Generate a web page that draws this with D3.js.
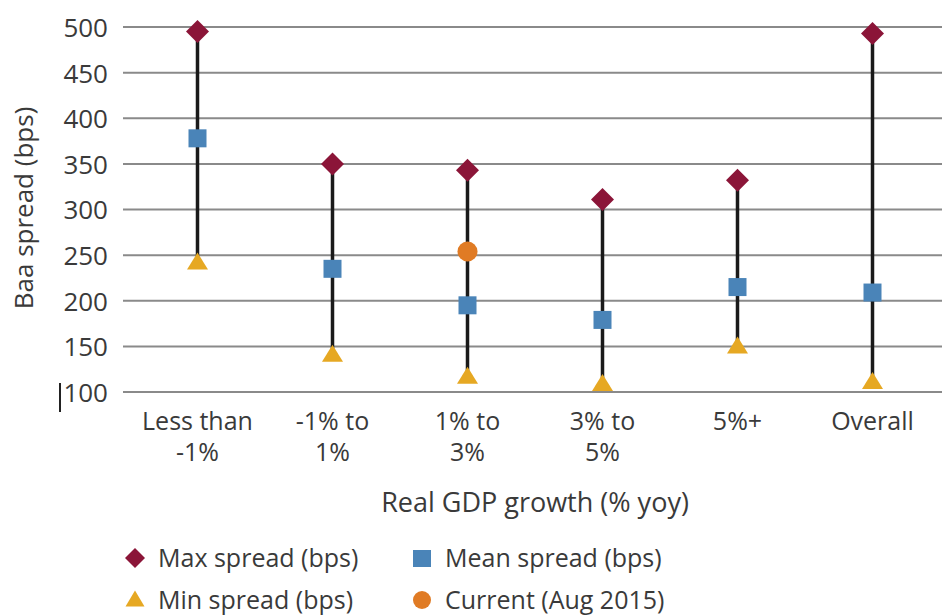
<!DOCTYPE html>
<html>
<head>
<meta charset="utf-8">
<script src="https://cdn.jsdelivr.net/npm/d3@7"></script>
<style>
  body { margin: 0; background: #fff; }
  svg { display: block; }
  .grid line { stroke: #8a8a8a; stroke-width: 2; }
  .lbl { fill: #3a3a3a; font-size: 25px; font-family: "Open Sans", sans-serif; }
</style>
</head>
<body>
<svg width="942" height="616"></svg>
<script>
const categories = [["Less than", "-1%"], ["-1% to", "1%"], ["1% to", "3%"], ["3% to", "5%"], ["5%+"], ["Overall"]];
const maxSpread = [495, 350, 343, 311, 332, 493];
const meanSpread = [378, 235, 195, 179, 215, 209];
const minSpread = [246, 145, 121, 113, 154, 115];
const current = [null, null, 254, null, null, null];
const yTicks = [100, 150, 200, 250, 300, 350, 400, 450, 500];

const svg = d3.select("svg");
const keys = categories.map(c => c.join(" "));

const xScale = d3.scaleBand().domain(keys).range([130, 940]);
const yScale = d3.scaleLinear().domain([100, 500]).range([392, 27]);
const cx = i => xScale(keys[i]) + xScale.bandwidth() / 2;

// grid lines
const grid = svg.append("g").attr("class", "grid");
grid.selectAll("line")
    .data(yTicks)
    .enter().append("line")
    .attr("x1", 123)
    .attr("x2", 942)
    .attr("y1", d => yScale(d))
    .attr("y2", d => yScale(d));

// y axis tick labels
const yAxis = d3.axisLeft(yScale).tickValues(yTicks).tickSize(0).tickPadding(0);
const gY = svg.append("g").attr("transform", "translate(108,0)").call(yAxis);
gY.attr("font-family", null).attr("font-size", null);
gY.select(".domain").remove();
gY.selectAll("text").attr("class", "lbl").attr("fill", null).style("font-size", "26px").attr("dy", "0.36em");

// little stub next to 100
svg.append("line")
    .attr("x1", 60).attr("x2", 60)
    .attr("y1", yScale(100) - 9).attr("y2", yScale(100) + 20)
    .attr("stroke", "#222").attr("stroke-width", 2);

// y title
svg.append("text")
    .attr("class", "lbl")
    .attr("text-anchor", "middle")
    .style("font-size", "26px")
    .attr("transform", "translate(33,208) rotate(-90)")
    .text("Baa spread (bps)");

// x labels
const xl = svg.append("g");
categories.forEach((c, i) => {
    const t = xl.append("text").attr("class", "lbl").attr("text-anchor", "middle");
    c.forEach((line, j) => {
        t.append("tspan").attr("x", cx(i)).attr("y", 430 + j * 31).text(line);
    });
});

svg.append("text")
    .attr("class", "lbl")
    .attr("text-anchor", "middle")
    .style("font-size", "27px")
    .attr("x", 535).attr("y", 512)
    .text("Real GDP growth (% yoy)");

// stems
svg.append("g").selectAll("line")
    .data(keys)
    .enter().append("line")
    .attr("x1", (d, i) => cx(i)).attr("x2", (d, i) => cx(i))
    .attr("y1", (d, i) => yScale(minSpread[i]))
    .attr("y2", (d, i) => yScale(maxSpread[i]))
    .attr("stroke", "#1a1a1a")
    .attr("stroke-width", 3.5);

const colors = { max: "#8b1538", mean: "#4a84b8", min: "#e6a823", cur: "#e07b24" };
const diamond = s => `M0,${-s}L${s},0L0,${s}L${-s},0Z`;
const tri = (w, h) => `M0,${-h * 0.6}L${w / 2},${h * 0.4}L${-w / 2},${h * 0.4}Z`;

// min triangles
svg.append("g").selectAll("path")
    .data(minSpread)
    .enter().append("path")
    .attr("d", tri(21, 17))
    .attr("transform", (d, i) => `translate(${cx(i)},${yScale(d) + 4})`)
    .attr("fill", colors.min);

// max diamonds
svg.append("g").selectAll("path")
    .data(maxSpread)
    .enter().append("path")
    .attr("d", diamond(11.5))
    .attr("transform", (d, i) => `translate(${cx(i)},${yScale(d)})`)
    .attr("fill", colors.max);

// mean squares
svg.append("g").selectAll("rect")
    .data(meanSpread)
    .enter().append("rect")
    .attr("x", (d, i) => cx(i) - 9)
    .attr("y", d => yScale(d) - 9)
    .attr("width", 18).attr("height", 18)
    .attr("fill", colors.mean);

// current circle
svg.append("g").selectAll("circle")
    .data(current.map((v, i) => ({ v, i })).filter(d => d.v != null))
    .enter().append("circle")
    .attr("cx", d => cx(d.i))
    .attr("cy", d => yScale(d.v))
    .attr("r", 10)
    .attr("fill", colors.cur);

// legend
const legendItems = [
    { label: "Max spread (bps)", shape: "diamond", color: colors.max, x: 135, y: 558 },
    { label: "Mean spread (bps)", shape: "square", color: colors.mean, x: 422, y: 558 },
    { label: "Min spread (bps)", shape: "triangle", color: colors.min, x: 135, y: 600 },
    { label: "Current (Aug 2015)", shape: "circle", color: colors.cur, x: 422, y: 600 }
];
const lg = svg.append("g").selectAll("g")
    .data(legendItems)
    .enter().append("g")
    .attr("transform", d => `translate(${d.x},${d.y})`);

lg.each(function (d) {
    const g = d3.select(this);
    if (d.shape === "diamond") g.append("path").attr("d", diamond(10)).attr("fill", d.color);
    if (d.shape === "square") g.append("rect").attr("x", -9).attr("y", -8).attr("width", 18).attr("height", 17).attr("fill", d.color);
    if (d.shape === "triangle") g.append("path").attr("d", tri(19, 16)).attr("fill", d.color);
    if (d.shape === "circle") g.append("circle").attr("r", 9).attr("fill", d.color);
    g.append("text").attr("class", "lbl").attr("x", 23).attr("y", 9).text(d.label);
});
</script>
</body>
</html>
